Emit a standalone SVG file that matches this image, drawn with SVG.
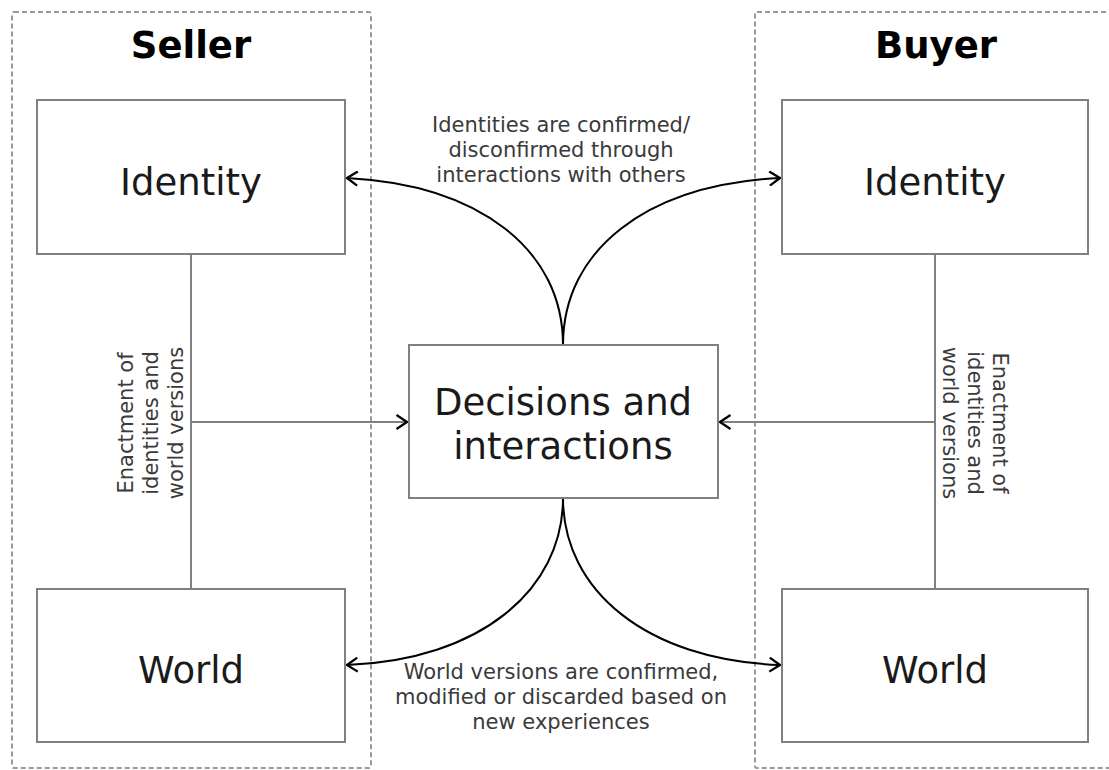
<svg xmlns="http://www.w3.org/2000/svg" width="1109" height="770" viewBox="0 0 1109 770">
  <style>
    .frame { fill: none; stroke: #9a9a9a; stroke-width: 2; stroke-dasharray: 5 3; }
    .box { fill: #ffffff; stroke: #808080; stroke-width: 2; }
    .title { font-family: "DejaVu Sans", Verdana, sans-serif; font-weight: bold; font-size: 37px; fill: #000; text-anchor: middle; }
    .big { font-family: "DejaVu Sans", Verdana, sans-serif; font-size: 37px; fill: #1a1a1a; text-anchor: middle; }
    .small { font-family: "DejaVu Sans", Verdana, sans-serif; font-size: 21px; fill: #3a3a3a; text-anchor: middle; }
    .link { fill: none; stroke: #808080; stroke-width: 2; }
    .curve { fill: none; stroke: #000; stroke-width: 2; }
  </style>
  <defs>
    <marker id="chev" viewBox="0 0 13 16" refX="12" refY="8" markerWidth="13" markerHeight="16" markerUnits="userSpaceOnUse" orient="auto">
      <path d="M1.5,1 L12,8 L1.5,15" fill="none" stroke="#000" stroke-width="2.2" stroke-linejoin="miter"/>
    </marker>
  </defs>

  <rect width="1109" height="770" fill="#ffffff"/>

  <!-- party frames -->
  <g id="seller">
    <rect class="frame" x="12" y="12" width="359" height="756" rx="2"/>
    <text class="title" x="191" y="58">Seller</text>
  </g>
  <g id="buyer">
    <rect class="frame" x="755" y="12" width="370" height="756" rx="2"/>
    <text class="title" x="936" y="58">Buyer</text>
  </g>

  <!-- connectors -->
  <g id="connectors">
    <line class="link" x1="191" y1="254" x2="191" y2="589"/>
    <line class="link" x1="935" y1="254" x2="935" y2="589"/>
    <line class="link" x1="191" y1="422" x2="407" y2="422" marker-end="url(#chev)"/>
    <line class="link" x1="935" y1="422" x2="720" y2="422" marker-end="url(#chev)"/>
    <path class="curve" d="M563,345 C563,250 480,185 347,178" marker-end="url(#chev)"/>
    <path class="curve" d="M563,345 C563,250 646,185 780,178" marker-end="url(#chev)"/>
    <path class="curve" d="M563,498 C563,590 480,660 347,665" marker-end="url(#chev)"/>
    <path class="curve" d="M563,498 C563,590 646,660 780,665" marker-end="url(#chev)"/>
  </g>

  <g id="seller-identity">
    <rect class="box" x="37" y="100" width="308" height="154"/>
    <text class="big" x="191" y="195">Identity</text>
  </g>
  <g id="seller-world">
    <rect class="box" x="37" y="589" width="308" height="153"/>
    <text class="big" x="191" y="683">World</text>
  </g>
  <g id="buyer-identity">
    <rect class="box" x="782" y="100" width="306" height="154"/>
    <text class="big" x="935" y="195">Identity</text>
  </g>
  <g id="buyer-world">
    <rect class="box" x="782" y="589" width="306" height="153"/>
    <text class="big" x="935" y="683">World</text>
  </g>
  <g id="decisions">
    <rect class="box" x="409" y="345" width="309" height="153"/>
    <text class="big" x="563" y="415">Decisions and</text>
    <text class="big" x="563" y="459">interactions</text>
  </g>

  <!-- connector labels -->
  <g id="labels">
    <text class="small" x="561" y="131.5">Identities are confirmed/</text>
    <text class="small" x="561" y="156.5">disconfirmed through</text>
    <text class="small" x="561" y="181.5">interactions with others</text>

    <text class="small" x="561" y="679">World versions are confirmed,</text>
    <text class="small" x="561" y="704">modified or discarded based on</text>
    <text class="small" x="561" y="729">new experiences</text>

    <g transform="translate(0,423) rotate(-90)">
      <text class="small" x="0" y="133">Enactment of</text>
      <text class="small" x="0" y="158">identities and</text>
      <text class="small" x="0" y="183">world versions</text>
    </g>
    <g transform="translate(0,423) rotate(90)">
      <text class="small" x="0" y="-993">Enactment of</text>
      <text class="small" x="0" y="-968">identities and</text>
      <text class="small" x="0" y="-943">world versions</text>
    </g>
  </g>
</svg>
